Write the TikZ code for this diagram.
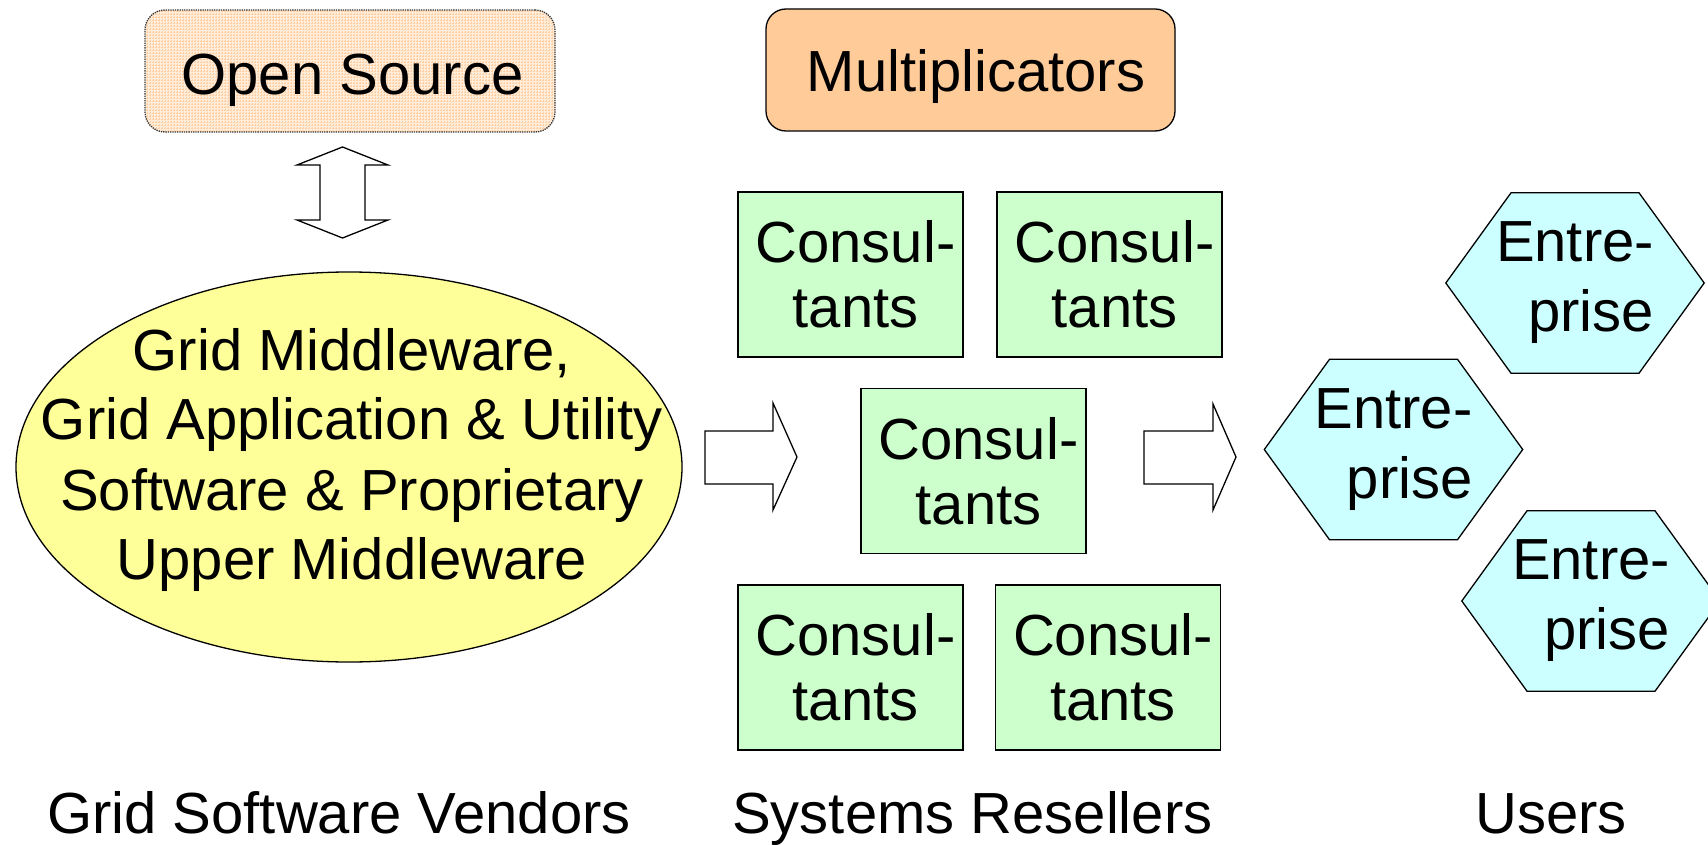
\documentclass[tikz,border=0pt]{standalone}
\usepackage{fontspec}
\setmainfont{Liberation Sans}
\usetikzlibrary{shapes.geometric,patterns,calc,backgrounds}

\definecolor{peachbase}{HTML}{FFECD9}
\definecolor{peachgrid}{HTML}{FFCFA3}
\definecolor{multfill}{HTML}{FFCC99}
\definecolor{consfill}{HTML}{CCFFCC}
\definecolor{entfill}{HTML}{CCFFFF}
\definecolor{vendfill}{HTML}{FFFF99}

\tikzset{
  big/.style={font=\fontsize{58}{70}\selectfont, inner sep=0pt},
  outline/.style={draw=black, line width=1.3pt},
  osbox/.style={rectangle, rounded corners=20pt, minimum width=410pt,
    minimum height=122pt, draw=black!80, densely dotted, line width=1.3pt,
    preaction={fill=peachbase}, pattern=grid, pattern color=peachgrid},
  multbox/.style={rectangle, rounded corners=20pt, minimum width=409pt,
    minimum height=122pt, outline, fill=multfill},
  vendor/.style={ellipse, minimum width=666pt, minimum height=390pt,
    inner sep=0pt, outline, fill=vendfill},
  consult/.style={rectangle, minimum width=225pt, minimum height=165pt,
    inner sep=0pt, outline, fill=consfill},
  ctext/.style={font=\fontsize{58}{65}\selectfont, inner sep=0pt, align=center},
  entnode/.style={big, align=right, minimum width=258pt, minimum height=180pt},
  hexline/.style={outline, fill=entfill, line join=miter},
  blockarrow/.style={outline, fill=white, line join=miter},
}

\begin{document}
\begin{tikzpicture}[x=1pt,y=-1pt]
\useasboundingbox (0,0) rectangle (1708,845);

% top row: open source and multiplicators
\node[osbox] (os) at (350,71) {};
\node[big, anchor=base] (ost) at (352.5,95) {Open Source};
\node[multbox] (mult) at (970.5,70) {};
\node[big, anchor=base] (multt) at (976,92) {Multiplicators};

% two-way block arrow under the open source box
\draw[blockarrow] (342.5,147) -- (388,165) -- (365,165) -- (365,220)
  -- (388,220) -- (342.5,238) -- (297,220) -- (320,220) -- (320,165)
  -- (297,165) -- cycle;

% vendors ellipse
\node[vendor] (gsv) at (349,467) {};
\node[big, align=center] (gsvt) at ($(gsv)+(3,-7)$)
  {Grid Middleware,\\Grid Application \& Utility\\Software \& Proprietary\\Upper Middleware};

% block arrows towards resellers and users
\draw[blockarrow] (705,431) -- (773,431) -- (773,403) -- (797,457)
  -- (773,510) -- (773,484) -- (705,484) -- cycle;
\draw[blockarrow] (1144,431) -- (1213,431) -- (1213,404) -- (1236,457)
  -- (1213,510) -- (1213,484) -- (1144,484) -- cycle;

% consultants
\foreach \n/\x/\y in {c1/850.5/274.5, c2/1109.5/274.5, c3/973.5/471,
                      c4/850.5/667.5, c5/1108/667.5}{
  \node[consult] (\n) at (\x,\y) {};
  \node[ctext] (\n t) at ($(\n)+(5,0)$) {Consul-\\tants};
}

% enterprises
\node[entnode] (e1) at (1575,283) {Entre-\\prise};
\node[entnode] (e2) at (1393.5,449.5) {Entre-\\prise};
\node[entnode] (e3) at (1591,601) {Entre-\\prise};
\begin{scope}[on background layer]
  \foreach \h in {e1,e2,e3}
    \draw[hexline] (\h.west) -- ([xshift=-64pt]\h.north)
      -- ([xshift=64pt]\h.north) -- (\h.east)
      -- ([xshift=64pt]\h.south) -- ([xshift=-64pt]\h.south) -- cycle;
\end{scope}

% column captions
\node[big, anchor=base west] (lab1) at (47,833) {Grid Software Vendors};
\node[big, anchor=base west] (lab2) at (732,833) {Systems Resellers};
\node[big, anchor=base west] (lab3) at (1475,833) {Users};
\end{tikzpicture}
\end{document}
